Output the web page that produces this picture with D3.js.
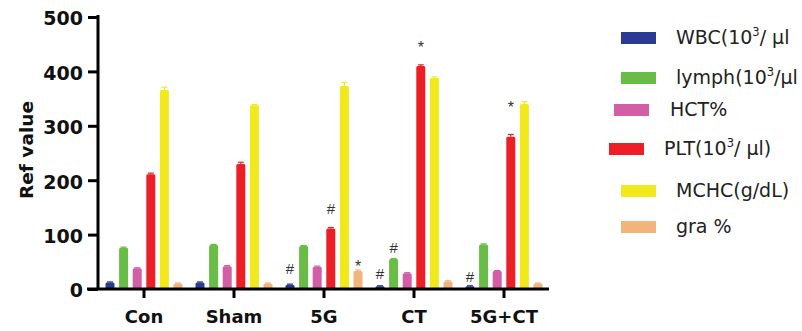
<!DOCTYPE html>
<html><head><meta charset="utf-8">
<script src="https://cdn.jsdelivr.net/npm/d3@7"></script>
<style>body{margin:0;background:#fff}svg{display:block}</style>
</head><body>
<svg id="c" width="802" height="331"></svg>
<script>
const categories = ["Con","Sham","5G","CT","5G+CT"];
const seriesNames = ["WBC","lymph","HCT","PLT","MCHC","gra"];
const WBC   = [12, 12, 8, 5, 5];
const lymph = [76, 81, 79, 55, 82];
const HCT   = [38, 42, 41, 29, 33];
const PLT   = [211, 230, 111, 410, 280];
const MCHC  = [366, 338, 373, 388, 340];
const gra   = [10, 10, 33, 14, 10];
const errs  = [[1,1,1,1,1],[1,1,1,1,1],[1,1,1,1,1],[2,3,2,2,4],[5,1,7,2,4],[1,1,2,1,1]];
const yTicks = [0,100,200,300,400,500];
const marks = [ // [category index, series index, symbol]
  [2,0,"#"],[2,3,"#"],[2,5,"*"],
  [3,0,"#"],[3,1,"#"],[3,3,"*"],
  [4,0,"#"],[4,3,"*"]
];
const markGap = [16, 20, 8, 13, 11, 22, 10, 33]; // px between bar top and symbol centre
const colors = ["#2b3a93","#67bd45","#d25ea6","#ec1e26","#f1e91b","#f3b47c"];
const legendParts = [
  ["WBC(10","3","/ µl"],
  ["lymph(10","3","/µl"],
  ["HCT%"],
  ["PLT(10","3","/ µl)"],
  ["MCHC(g/dL)"],
  ["gra %"]
];
const values = [WBC, lymph, HCT, PLT, MCHC, gra];
const FONT = "DejaVu Sans, Verdana, sans-serif";

const svg = d3.select("#c");
const x = d3.scaleBand().domain(categories).range([99, 549]);
const xi = d3.scaleBand().domain(seriesNames).range([-38.5, 38.5]).paddingInner(0.338).paddingOuter(0);
const y = d3.scaleLinear().domain([0,500]).range([289, 17]);

// bars
seriesNames.forEach((s, si) => {
  const g = svg.append("g");
  categories.forEach((c, ci) => {
    const v = values[si][ci];
    const bx = x(c) + x.bandwidth()/2 + xi(s);
    g.append("rect").attr("x", bx).attr("y", y(v)).attr("width", xi.bandwidth())
      .attr("height", y(0) - y(v)).attr("fill", colors[si]).attr("rx", 1.5);
    const e = errs[si][ci];
    const cx = bx + xi.bandwidth()/2;
    g.append("line").attr("x1", cx).attr("x2", cx).attr("y1", y(v)).attr("y2", y(v+e))
      .attr("stroke", colors[si]).attr("stroke-width", 1.2);
    g.append("line").attr("x1", cx-3).attr("x2", cx+3).attr("y1", y(v+e)).attr("y2", y(v+e))
      .attr("stroke", colors[si]).attr("stroke-width", 1.2);
  });
});

// significance marks
marks.forEach(([ci, si, sym], k) => {
  const v = values[si][ci];
  const cx = x(categories[ci]) + x.bandwidth()/2 + xi(seriesNames[si]) + xi.bandwidth()/2;
  const fs = sym === "*" ? 16 : 15;
  const centre = y(v) - markGap[k];
  svg.append("text").attr("x", cx).attr("y", centre + (sym === "*" ? 0.58 : 0.36) * fs)
    .attr("text-anchor","middle").attr("font-family","Liberation Sans, Arial, sans-serif")
    .attr("font-size", fs).attr("fill","#333").text(sym);
});

// y axis
const yAxis = svg.append("g").attr("transform","translate(98,0)")
  .call(d3.axisLeft(y).tickValues(yTicks).tickSize(10).tickPadding(5));
yAxis.select(".domain").attr("stroke","#000").attr("stroke-width",3).attr("d","M0,15V290");
yAxis.selectAll(".tick line").attr("stroke","#000").attr("stroke-width",3);
yAxis.selectAll(".tick text").attr("font-family",FONT).attr("dy","0.42em")
  .attr("font-weight","bold").attr("font-size",19).attr("fill","#111");

// x axis
const xAxis = svg.append("g").attr("transform","translate(0,289)")
  .call(d3.axisBottom(x).tickSize(9).tickPadding(12));
xAxis.select(".domain").attr("stroke","#000").attr("stroke-width",3).attr("d","M87,0H549");
xAxis.selectAll(".tick line").attr("stroke","#000").attr("stroke-width",3);
xAxis.selectAll(".tick text").attr("font-family",FONT)
  .attr("font-weight","bold").attr("font-size",18).attr("fill","#111");

// y label
svg.append("text").attr("transform","translate(33,150) rotate(-90)")
  .attr("text-anchor","middle").attr("font-family",FONT)
  .attr("font-weight","bold").attr("font-size",18.5).attr("fill","#111").text("Ref value");

// legend
const legBase = [44, 84, 116, 155, 197, 233];
const legSwX = [621, 621, 614, 609, 621, 621];
const legTxX = [676, 676, 670, 664, 676, 676];
legendParts.forEach((parts, i) => {
  svg.append("rect").attr("x", legSwX[i]).attr("y", legBase[i]-12).attr("width", 35).attr("height", 12)
    .attr("fill", colors[i]);
  const t = svg.append("text").attr("x", legTxX[i]).attr("y", legBase[i])
    .attr("font-family",FONT).attr("font-size",19).attr("fill","#222");
  t.append("tspan").text(parts[0]);
  if (parts.length > 1) {
    t.append("tspan").attr("dy",-8).attr("font-size",11.5).text(parts[1]);
    t.append("tspan").attr("dy",8).text(parts[2]);
  }
});
</script>
</body></html>
